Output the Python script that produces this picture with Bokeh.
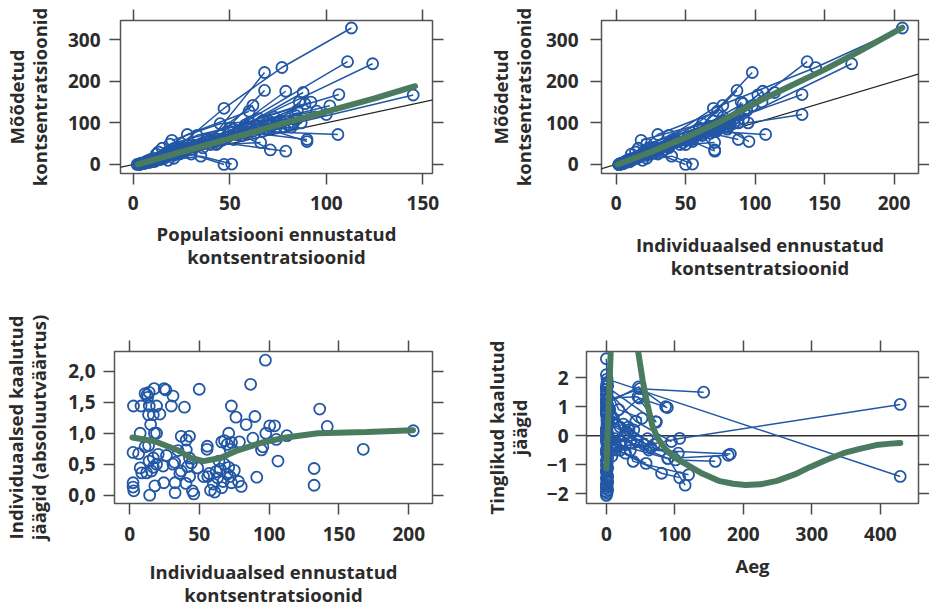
from bokeh.plotting import figure
from bokeh.layouts import column, row
from bokeh.models import Range1d, LinearAxis, FixedTicker, Slope, Span, CustomJSTickFormatter
from bokeh.embed import file_html
from bokeh.resources import INLINE

BLUE = "#2157a5"
GREEN = "#4b7b5e"
TXT = "#2b2b2b"
FONT = "Open Sans"

# ---------------- data: panels 1-2 (one inner list per individual) ----------------
PRED = [[3, 20, 47, 77, 113], [4, 22, 50, 111], [5, 25, 60, 124], [3, 15, 40, 68],
        [6, 18, 45, 68], [5, 20, 52, 79], [7, 24, 58, 88], [8, 30, 65, 106.5],
        [10, 35, 80, 145], [9, 28, 70, 101.8], [12, 38, 75, 100], [11, 30, 62, 106],
        [14, 40, 70, 90], [4, 13, 28, 60], [16, 42, 79], [6, 30, 47], [8, 35, 51],
        [20, 45, 85], [19, 50, 89], [15, 38, 62], [12, 33, 73], [18, 48, 82],
        [22, 55, 92], [25, 60, 85], [9, 26, 55], [13, 32, 66], [17, 44, 72],
        [21, 52, 78], [24, 46, 67], [27, 56, 83], [11, 23, 43], [7, 19, 36],
        [33, 63, 90], [36, 57, 71], [2, 10, 16], [3, 12, 21], [5, 14, 24], [4, 9, 18],
        [6, 27, 54, 84], [10, 31, 61, 87], [13, 36, 64, 76], [15, 41, 69, 81],
        [19, 43, 58, 74], [23, 49, 67, 95], [8, 21, 39, 57], [26, 53, 74, 86]]
IPRED = [[2, 22, 70, 143.6, 206], [3, 25, 72, 137.5], [4, 30, 82, 169.5], [2, 15, 52, 98],
         [5, 19, 55, 87], [4, 24, 70, 105.6], [6, 28, 75, 114], [7, 38, 85, 133.8],
         [9, 40, 75, 102], [8, 32, 80, 98], [10, 45, 95, 133.8], [10, 35, 70, 107.6],
         [12, 50, 80, 95.6], [4, 14, 30, 73], [15, 55, 71], [5, 30, 50], [6, 40, 55],
         [18, 62, 91.7], [22, 60, 91.4], [16, 41, 76.8], [11, 38, 77], [20, 55, 80.4],
         [25, 65, 105], [28, 70, 94], [9, 29, 60], [13, 36, 70.9], [17, 48, 76],
         [22, 55, 80], [26, 50, 72], [30, 62, 88], [12, 25, 46], [7, 20, 38],
         [38, 68, 88], [40, 62, 70.9], [2, 9, 17], [3, 12, 22], [5, 15, 25], [4, 9, 19],
         [6, 30, 60, 88], [10, 34, 66, 85], [14, 40, 68, 78], [16, 44, 72, 82],
         [20, 46, 60, 75], [24, 52, 70, 92], [8, 23, 42, 60], [28, 58, 80, 90]]
DV = [[0, 30, 135, 233, 328], [2, 40, 80, 247], [3, 35, 100, 242], [0, 18, 60, 221],
      [4, 25, 70, 178], [2, 30, 85, 176], [5, 38, 95, 173], [6, 45, 110, 168],
      [8, 50, 95, 167], [6, 40, 105, 141], [10, 55, 100, 120], [7, 36, 80, 72],
      [12, 48, 85, 55], [1, 30, 72, 128], [15, 55, 32], [3, 25, 0], [5, 20, 1],
      [58, 98, 110], [49, 88, 146], [39, 60, 142], [25, 70, 114], [30, 65, 90],
      [35, 78, 150], [40, 88, 130], [12, 40, 75], [15, 45, 53], [20, 52, 95],
      [22, 60, 90], [28, 58, 80], [32, 70, 100], [14, 28, 48], [8, 22, 40],
      [45, 75, 60], [50, 70, 35], [0, 8, 20], [1, 12, 15], [2, 18, 25], [3, 6, 10],
      [5, 36, 72, 118], [9, 42, 84, 100], [16, 50, 92, 105], [18, 56, 86, 95],
      [24, 62, 75, 88], [30, 66, 105, 128], [10, 28, 55, 85], [30, 72, 98, 150]]

SMOOTH1_X = [2.4, 25, 50, 75, 100, 125, 146]
SMOOTH1_Y = [0, 30, 62, 95, 127, 159, 188]
SMOOTH2_X = [1, 25, 50, 75, 100, 125, 150, 175, 206]
SMOOTH2_Y = [0, 30, 65, 103, 148, 188, 228, 272, 329]

# ---------------- data: panel 3 ----------------
P3_IPRED = [11.1, 12.5, 14, 17.6, 24.8, 26, 31.1, 13,
            2.8, 8.2, 14.1, 19.3, 29.9, 39.3,
            13.6, 17, 21.7, 15.1, 7.6, 17.8, 19.3,
            11.1, 13.6, 17, 20.5, 26.4, 2.5, 6.5,
            7.6, 8.7, 12.2, 15.7, 19.3, 24.1, 17, 14,
            2.5, 2.5, 3, 14.4, 24.5, 18.1,
            32.6, 32.6, 40.4, 45, 46, 43,
            31.1, 32.3, 34.7, 37, 40.6, 37, 42.9, 40.6, 42.9, 44.3, 41.5, 48.8, 36,
            49.9,
            55.7, 55.5, 56, 58, 60, 62, 63, 65, 66, 67, 68, 70, 71, 72, 73, 75, 61, 57, 64, 53,
            66, 68, 70, 72, 73, 71, 78.7, 72.9, 76.2, 83.5, 89.8, 86.7,
            78, 80, 91.1,
            88.3, 94.5, 97.6, 97.3, 100.4, 103.9, 105.1, 106.3, 112.7, 95.5,
            132.2, 132.2, 136.2, 141.6, 167.4, 203.2]
P3_ABSIWRES = [1.64, 1.62, 1.66, 1.72, 1.72, 1.7, 1.6, 1.58,
               1.44, 1.44, 1.44, 1.44, 1.44, 1.42,
               1.3, 1.3, 1.31, 1.14, 1.0, 1.0, 1.0,
               0.78, 0.8, 0.6, 0.66, 0.64, 0.69, 0.67,
               0.44, 0.36, 0.36, 0.39, 0.5, 0.47, 0.45, 0.55,
               0.2, 0.13, 0.07, 0.0, 0.2, 0.15,
               0.2, 0.04, 0.19, 0.07, 0.02, 0.3,
               0.5, 0.53, 0.72, 0.39, 0.73, 0.95, 0.95, 0.89, 0.6, 0.52, 0.46, 0.44, 0.35,
               1.71,
               0.79, 0.74, 0.3, 0.08, 0.18, 0.38, 0.28, 0.42, 0.12, 0.22, 0.5, 0.34, 0.45, 0.3, 0.2, 0.4, 0.05, 0.35, 0.55, 0.3,
               0.86, 0.88, 0.82, 0.74, 0.85, 1.0, 0.86, 1.44, 1.26, 1.14, 1.27, 1.79,
               0.22, 0.14, 0.29,
               0.92, 0.73, 1.0, 2.18, 1.12, 1.12, 0.9, 0.55, 0.96, 0.78,
               0.43, 0.16, 1.39, 1.11, 0.74, 1.04]
SMOOTH3_X = [2, 18, 35, 44, 53, 65, 77, 95, 112, 135, 170, 203]
SMOOTH3_Y = [0.93, 0.87, 0.72, 0.6, 0.55, 0.6, 0.72, 0.85, 0.93, 1.0, 1.02, 1.05]

# ---------------- data: panel 4 ----------------
TIME = [[1, 429], [0, 107, 429], [0, 49, 142], [1, 48, 89], [0, 73], [1, 62, 181],
        [0, 101, 159], [1, 39, 120], [0, 90, 115], [1, 80.6, 107], [0, 14, 26],
        [1, 20, 55], [0, 30, 65], [0, 25, 45], [1, 15, 35], [0, 10, 40], [1, 18, 52],
        [0, 22, 60], [1, 12, 32], [0, 8, 28], [0, 47, 86.5], [1, 46, 72],
        [0, 89.6, 178], [0, 5, 12], [0, 3, 20], [0, 33, 70], [1, 28, 58],
        [0, 43, 95], [1, 35, 105]]
CWRES = [[1.95, -1.40], [-0.6, -0.09, 1.08], [1.2, 1.62, 1.5], [0.3, 1.3, 0.97], [1.7, 0.47],
         [0.5, -0.49, -0.63], [0.8, -0.83, -0.88], [1.5, -0.88, -1.34], [0.1, -0.78, -1.7],
         [-0.3, -1.29, -1.44], [1.0, -0.49, 0.0], [0.6, 0.3, -0.3], [1.4, 0.1, -0.4],
         [0.2, 0.4, -0.2], [-0.9, -0.4, -0.5], [0.9, 0.6, 0.2], [1.8, 0.9, 0.6],
         [-0.1, -0.2, -0.1], [0.4, -0.1, 0.3], [-1.2, -0.7, -0.3], [1.1, 1.68, 1.0],
         [1.3, 1.34, 0.49], [-0.2, -0.78, -0.67], [2.1, 0.9, -0.3], [2.65, 0.5, -0.5],
         [0.9, 0.2, -0.3], [-0.5, -0.6, -0.95], [1.6, 0.5, -0.2], [0.0, -0.25, -0.6]]
TIME_SINGLE = [0, 1, 0, 2, 0, 1, 0, 2, 1, 0, 2, 1, 0, 1, 2, 0, 1, 0, 2, 1, 0, 1, 2, 0, 1,
               0, 2, 1, 0, 1, 2, 0, 1, 0, 2, 1]
CWRES_SINGLE = [-2.05, -1.98, -1.92, -1.86, -1.8, -1.74, -1.67, -1.6, -1.53, -1.46, -1.4,
                -1.33, -1.25, -1.18, -1.1, -1.02, -0.95, -0.85, -0.75, -0.62, -0.5, -0.4,
                -0.25, -0.12, 0.05, 0.22, 0.38, 0.55, 0.72, 0.88, 1.05, 1.25, 1.45, 1.6,
                1.72, 1.84]
SMOOTH4_X = [0, 3, 6.3, 10, 20, 30, 40, 46.6, 53, 59.8, 67, 74, 86, 100, 115.6, 140, 164,
             185, 203, 225, 249, 275, 297, 320, 346, 370, 394, 415, 429]
SMOOTH4_Y = [-1.12, 0.8, 2.87, 4.8, 7, 7.2, 5.5, 2.87, 1.9, 1.1, 0.36, -0.05, -0.45, -0.75,
             -0.97, -1.3, -1.55, -1.65, -1.69, -1.67, -1.55, -1.33, -1.08, -0.84, -0.6,
             -0.45, -0.32, -0.27, -0.25]

# ---------------- tick values and labels ----------------
X1_TICKS = [0, 50, 100, 150]
X2_TICKS = [0, 50, 100, 150, 200]
Y12_TICKS = [0, 100, 200, 300]
Y3_TICKS = [0, 0.5, 1.0, 1.5, 2.0]
X4_TICKS = [0, 100, 200, 300, 400]
Y4_TICKS = [-2, -1, 0, 1, 2]

YLAB12 = "Mõõdetud\nkontsentratsioonid"
XLAB1 = "Populatsiooni ennustatud\nkontsentratsioonid"
XLAB2 = "Individuaalsed ennustatud\nkontsentratsioonid"
YLAB3 = "Individuaalsed kaalutud\njäägid (absoluutväärtus)"
YLAB4 = "Tinglikud kaalutud\njäägid"
XLAB4 = "Aeg"


def flat(nested):
    return [v for sub in nested for v in sub]


def make_fig(w, h, xr, yr, borders, xticks, yticks, xlabel, ylabel,
             x_std=8, y_std=8, xl_std=8, yl_std=10, yfmt=None):
    p = figure(width=w, height=h, x_range=Range1d(*xr), y_range=Range1d(*yr),
               output_backend="svg", toolbar_location=None,
               min_border_left=borders[0], min_border_right=borders[1],
               min_border_top=borders[2], min_border_bottom=borders[3])
    p.grid.visible = False
    p.outline_line_color = "#555555"
    p.outline_line_width = 1.5
    p.background_fill_color = "white"
    p.border_fill_color = "white"
    top = LinearAxis()
    right = LinearAxis()
    p.add_layout(top, "above")
    p.add_layout(right, "right")
    for ax in p.xaxis:
        ax.ticker = FixedTicker(ticks=xticks)
    for ax in p.yaxis:
        ax.ticker = FixedTicker(ticks=yticks)
    for ax in p.axis:
        ax.axis_line_color = None
        ax.major_tick_in = 0
        ax.major_tick_out = 11
        ax.major_tick_line_color = "#4a4a4a"
        ax.major_tick_line_width = 1.5
        ax.minor_tick_line_color = None
        ax.major_label_text_font = FONT
        ax.major_label_text_font_style = "bold"
        ax.major_label_text_font_size = "19px"
        ax.major_label_text_color = TXT
        ax.axis_label_text_font = FONT
        ax.axis_label_text_font_style = "bold"
        ax.axis_label_text_font_size = "18.5px"
        ax.axis_label_text_color = TXT
        ax.axis_label_text_line_height = 0.92
    for ax in (top, right):
        ax.major_label_text_font_size = "0px"
        ax.major_label_standoff = 0
        ax.formatter = CustomJSTickFormatter(code="return '';")
    bx = p.below[0]
    ly = p.left[0]
    bx.axis_label = xlabel
    ly.axis_label = ylabel
    bx.major_label_standoff = x_std
    ly.major_label_standoff = y_std
    bx.axis_label_standoff = xl_std
    ly.axis_label_standoff = yl_std
    if yfmt is not None:
        ly.formatter = yfmt
    return p


def draw_lines_points(p, xs, ys):
    p.multi_line(xs=xs, ys=ys, line_color=BLUE, line_width=1.5)
    p.scatter(x=flat(xs), y=flat(ys), marker="circle", size=11, fill_color=None,
              line_color=BLUE, line_width=1.8)


# Panel 1
p1 = make_fig(460, 300, (-6.6, 155), (-21.7, 346), (115, 28, 20, 127),
              X1_TICKS, Y12_TICKS, XLAB1, YLAB12, x_std=11, y_std=9, xl_std=8, yl_std=13)
p1.add_layout(Slope(gradient=1, y_intercept=0, line_color="#222222", line_width=1.2,
                    level="underlay"))
draw_lines_points(p1, PRED, DV)
p1.line(SMOOTH1_X, SMOOTH1_Y, line_color=GREEN, line_width=6, line_cap="round")

# Panel 2
p2 = make_fig(469, 300, (-10.5, 217.6), (-21.7, 346), (141, 11, 20, 127),
              X2_TICKS, Y12_TICKS, XLAB2, YLAB12, x_std=11, y_std=12, xl_std=19, yl_std=7)
p2.add_layout(Slope(gradient=1, y_intercept=0, line_color="#222222", line_width=1.2,
                    level="underlay"))
draw_lines_points(p2, IPRED, DV)
p2.line(SMOOTH2_X, SMOOTH2_Y, line_color=GREEN, line_width=6, line_cap="round")

# Panel 3
fmt3 = CustomJSTickFormatter(code="return tick.toFixed(1).replace('.', ',');")
p3 = make_fig(460, 309, (-10.8, 217), (-0.135, 2.32), (109, 28, 51, 105),
              X2_TICKS, Y3_TICKS, XLAB2, YLAB3, x_std=12, y_std=8, xl_std=15, yl_std=14,
              yfmt=fmt3)
p3.scatter(x=P3_IPRED, y=P3_ABSIWRES, marker="circle", size=11, fill_color=None,
           line_color=BLUE, line_width=1.8)
p3.line(SMOOTH3_X, SMOOTH3_Y, line_color=GREEN, line_width=6, line_cap="round")

# Panel 4
fmt4 = CustomJSTickFormatter(code="return tick < 0 ? '\u2212' + (-tick) : String(tick);")
p4 = make_fig(469, 309, (-29, 455.7), (-2.33, 2.9), (126, 11, 51, 105),
              X4_TICKS, Y4_TICKS, XLAB4, YLAB4, x_std=12, y_std=7, xl_std=9, yl_std=12,
              yfmt=fmt4)
p4.add_layout(Span(location=0, dimension="width", line_color="#333333", line_width=1.5,
                   level="underlay"))
draw_lines_points(p4, TIME, CWRES)
p4.scatter(x=TIME_SINGLE, y=CWRES_SINGLE, marker="circle", size=11, fill_color=None,
           line_color=BLUE, line_width=1.8)
p4.line(SMOOTH4_X, SMOOTH4_Y, line_color=GREEN, line_width=6, line_cap="round")

layout = column(row(p1, p2), row(p3, p4))
open("out.html", "w").write(file_html(layout, INLINE))
